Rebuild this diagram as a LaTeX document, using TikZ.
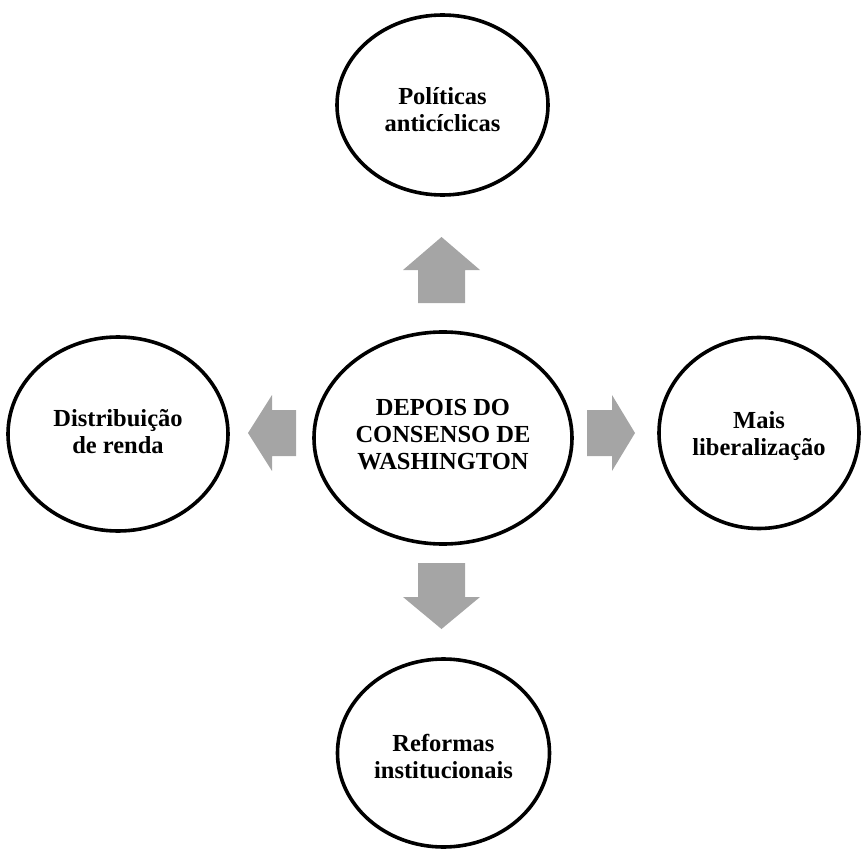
\documentclass[tikz,border=0pt]{standalone}
\usepackage{fontspec}
\setmainfont{Liberation Serif}
\usetikzlibrary{shapes.geometric}
\definecolor{arrowgray}{HTML}{A5A5A5}
\begin{document}
\begin{tikzpicture}[x=1pt,y=-1pt,
  bubble/.style={draw=black,line width=3.6pt,ellipse,inner sep=0pt},
  lbl/.style={align=center,inner sep=0pt,
    font=\fontsize{24.5}{27}\selectfont\bfseries},
  blockarrow/.style={fill=arrowgray,draw=none}]
\useasboundingbox (0,0) rectangle (863,851);

% outer ellipses
\node[bubble,minimum width=211pt,minimum height=180pt] (top) at (442.5,105) {};
\node[bubble,minimum width=220pt,minimum height=194pt] (left) at (118,434) {};
\node[bubble,minimum width=200pt,minimum height=191pt] (right) at (759,433) {};
\node[bubble,minimum width=212pt,minimum height=188pt] (bottom) at (443.5,753) {};
% central ellipse
\node[bubble,minimum width=258pt,minimum height=212pt] (center) at (443,438) {};

% labels
\node[lbl] (top-t) at (442.5,110) {Políticas\\anticíclicas};
\node[lbl] (left-t) at (118,432) {Distribuição\\de renda};
\node[lbl] (right-t) at (759,436) {Mais\\liberalização};
\node[lbl] (bottom-t) at (443.5,757) {Reformas\\institucionais};
\node[lbl] (center-t) at (443,435) {DEPOIS DO\\CONSENSO DE\\WASHINGTON};

% block arrows pointing outward from the centre
\fill[blockarrow] (418,303) -- (418,270) -- (403,270) -- (441.5,237)
  -- (480,270) -- (465,270) -- (465,303) -- cycle;
\fill[blockarrow] (418,563) -- (418,597) -- (403,597) -- (441.5,629)
  -- (480,597) -- (465,597) -- (465,563) -- cycle;
\fill[blockarrow] (296,410) -- (272,410) -- (272,395) -- (248,433)
  -- (272,471) -- (272,456) -- (296,456) -- cycle;
\fill[blockarrow] (587,410) -- (612,410) -- (612,395) -- (635,433)
  -- (612,471) -- (612,456) -- (587,456) -- cycle;
\end{tikzpicture}
\end{document}
